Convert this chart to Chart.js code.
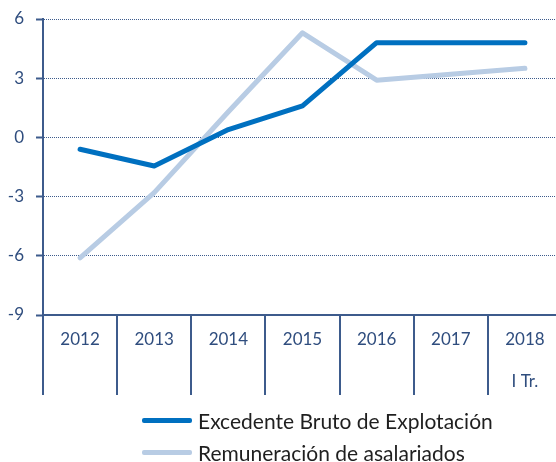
<!DOCTYPE html>
<html>
<head>
<meta charset="utf-8">
<script src="https://cdn.jsdelivr.net/npm/chart.js@4/dist/chart.umd.min.js"></script>
<style>
  html, body { margin: 0; padding: 0; background: #fff; overflow: hidden; }
  #wrap { position: relative; width: 562px; height: 462px; }
  .leg { position: absolute; left: 142px; height: 30px; display: flex; align-items: center;
         font-family: Lato, "Open Sans", sans-serif; font-size: 21px; color: #1f1f1f; white-space: nowrap; }
  .leg span.sw { display: inline-block; width: 50px; height: 5px; border-radius: 2px; margin-right: 6px; }
</style>
</head>
<body>
<div id="wrap">
  <canvas id="chart"></canvas>
  <div id="legend"></div>
</div>
<script>
// Data
const categories = ["2012", "2013", "2014", "2015", "2016", "2017", ["2018", "I Tr."]];
const excedenteBruto = [-0.6, -1.45, 0.4, 1.6, 4.8, 4.8, 4.8];
const remuneracion = [-6.1, -2.8, 1.3, 5.3, 2.9, 3.2, 3.5];
const seriesNames = ["Excedente Bruto de Explotación", "Remuneración de asalariados"];
const seriesColors = ["#0070c0", "#b8cce4"];
const yTicks = [6, 3, 0, -3, -6, -9];

const axisColor = "#3d5b8c";
const labelColor = "#2f4d7e";

const ctx = document.getElementById("chart").getContext("2d");

new Chart(ctx, {
  type: "line",
  data: {
    labels: categories,
    datasets: [
      {
        label: seriesNames[0],
        data: excedenteBruto,
        borderColor: seriesColors[0],
        borderWidth: 5,
        pointRadius: 0,
        tension: 0,
        borderCapStyle: "round",
        borderJoinStyle: "round",
      },
      {
        label: seriesNames[1],
        data: remuneracion,
        borderColor: seriesColors[1],
        borderWidth: 5,
        pointRadius: 0,
        tension: 0,
        borderCapStyle: "round",
        borderJoinStyle: "round",
      },
    ],
  },
  options: {
    responsive: true,
    maintainAspectRatio: false,
    animation: false,
    layout: { padding: { top: 19, left: 0, right: 0, bottom: 0 } },
    plugins: {
      legend: { display: false },
      tooltip: { enabled: false },
    },
    scales: {
      x: {
        offset: true,
        border: { display: true, color: axisColor, width: 2 },
        grid: {
          offset: true,
          drawOnChartArea: false,
          drawTicks: true,
          tickLength: 80,
          color: axisColor,
          lineWidth: 2,
        },
        ticks: {
          color: labelColor,
          padding: -76,
          maxRotation: 0,
          autoSkip: false,
          font: { family: "Lato", size: 17, lineHeight: 2.47 },
        },
        afterFit: (scale) => { scale.height = 147; },
      },
      y: {
        min: -9,
        max: 6,
        afterBuildTicks: (scale) => {
          scale.ticks = yTicks.map((v) => ({ value: v }));
        },
        border: { display: true, color: axisColor, width: 2, dash: [1, 1] },
        grid: {
          color: axisColor,
          lineWidth: 1,
          tickLength: 7,
          tickWidth: 2,
          tickBorderDash: [],
          tickColor: axisColor,
        },
        ticks: {
          color: labelColor,
          padding: 12,
          font: { family: "Lato", size: 17 },
        },
        afterFit: (scale) => {
          scale.width = 43;
          scale.paddingTop = 0;
          scale.paddingBottom = 0;
        },
      },
    },
  },
});

// Legend in HTML, built from the series arrays
const legend = document.getElementById("legend");
const legendTops = [405, 437];
seriesNames.forEach((name, i) => {
  const item = document.createElement("div");
  item.className = "leg";
  item.style.top = legendTops[i] + "px";
  const sw = document.createElement("span");
  sw.className = "sw";
  sw.style.background = seriesColors[i];
  item.appendChild(sw);
  item.appendChild(document.createTextNode(name));
  legend.appendChild(item);
});
</script>
</body>
</html>
